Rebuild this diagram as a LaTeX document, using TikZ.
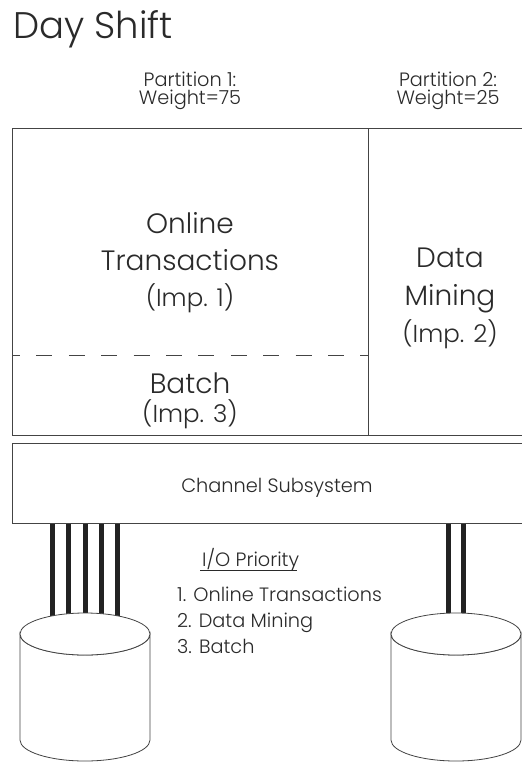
\documentclass[tikz,border=0pt]{standalone}
\usepackage{fontspec}
\setmainfont{Poppins}[UprightFont=* Light]
\usetikzlibrary{calc}
\begin{document}
\begin{tikzpicture}[x=1pt,y=-1pt,
  txt/.style={text=textgray, inner sep=0pt, anchor=base, align=center},
  small/.style={font=\fontsize{19.3}{19.3}\selectfont},
  big/.style={font=\fontsize{28}{28}\selectfont},
  imp/.style={font=\fontsize{24.5}{24.5}\selectfont},
  boxline/.style={draw=linegray, line width=0.9pt},
  cable/.style={draw=cablegray, line width=5pt},
  disk/.style={draw=linegray, line width=0.8pt, fill=white}]
\definecolor{textgray}{HTML}{2a2a2a}
\definecolor{linegray}{HTML}{444444}
\definecolor{cablegray}{HTML}{222222}
\useasboundingbox (0,0) rectangle (522,763);
\fill[white] (0,0) rectangle (522,763);

% title
\node[txt, anchor=base west, font=\fontsize{37}{37}\selectfont] (title) at (13,38) {Day Shift};

% partition headers
\node[txt, small] (h1a) at (190,86) {Partition 1:};
\node[txt, small] (h1b) at (190,104) {Weight=75};
\node[txt, small] (h2a) at (448,86) {Partition 2:};
\node[txt, small] (h2b) at (448,104) {Weight=25};

% partitions
\node[boxline, anchor=north west, minimum width=356, minimum height=307, inner sep=0pt] (p1) at (12,128) {};
\node[boxline, anchor=north west, minimum width=180, minimum height=307, inner sep=0pt] (p2) at (368,128) {};
\draw[draw=linegray, line width=0.9pt, dash pattern=on 16pt off 16.4pt, dash phase=8pt] (p1.west |- 0,355) coordinate (dl) -- (p1.east |- 0,355) coordinate (dr);

\node[txt, big] (ot1) at (190,233) {Online};
\node[txt, big] (ot2) at (190,270) {Transactions};
\node[txt, imp] (ot3) at (190,306) {(Imp. 1)};
\node[txt, big] (b1) at (190,393) {Batch};
\node[txt, imp] (b2) at (190,422) {(Imp. 3)};
\node[txt, big] (dm1) at (450,267) {Data};
\node[txt, big] (dm2) at (450,305) {Mining};
\node[txt, imp] (dm3) at (450,342) {(Imp. 2)};

% channel subsystem
\node[boxline, anchor=north west, minimum width=520, minimum height=80, inner sep=0pt] (chan) at (12,443) {};
\node[txt, small] (chant) at (277,492) {Channel Subsystem};

% cylinder end coordinates
\coordinate (d1) at (85,634);
\coordinate (d2) at (456,634);

% cables
\foreach \dx in {-33,-17,0,16,32}{
  \coordinate (t) at ($(d1)+(\dx,0)$);
  \draw[cable] (t |- chan.south) -- (t);
}
\foreach \dx in {-8,7}{
  \coordinate (t) at ($(d2)+(\dx,0)$);
  \draw[cable] (t |- chan.south) -- (t);
}

% cylinders
\foreach \c in {d1,d2}{
  \path[disk] ($(\c)+(-65,0)$) -- ($(\c)+(-65,106)$) arc[start angle=180, end angle=360, x radius=65, y radius=-21] -- ($(\c)+(65,0)$) arc[start angle=0, end angle=-180, x radius=65, y radius=-21] -- cycle;
  \draw[disk] (\c) ellipse[x radius=65, y radius=21];
}

% priority list
\node[txt, anchor=base west, small] (iop) at (202,566) {I/O Priority};
\draw[draw=textgray, line width=0.8pt] (iop.base west) ++(-2,4) -- ++(97,0);
\node[txt, anchor=base west, small] (l1) at (177,601) {1. Online Transactions};
\node[txt, anchor=base west, small] (l2) at (177,627) {2. Data Mining};
\node[txt, anchor=base west, small] (l3) at (177,653) {3. Batch};
\end{tikzpicture}
\end{document}
